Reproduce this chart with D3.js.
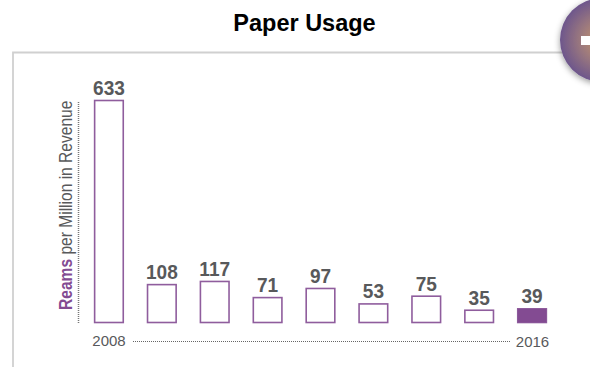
<!DOCTYPE html>
<html><head><meta charset="utf-8"><style>html,body{margin:0;padding:0;background:#fff;overflow:hidden}svg{display:block}</style>
<script src="https://cdn.jsdelivr.net/npm/d3@7/dist/d3.min.js"></script></head><body><div id="c"></div>
<script>
const years=[2008,2009,2010,2011,2012,2013,2014,2015,2016];
const values=[633,108,117,71,97,53,75,35,39];
const axisLabels=["2008","2016"];
const title="Paper Usage";
const W=590,H=367,purple="#834b92",grey="#58595b",font="'Liberation Sans',Arial,sans-serif";
const svg=d3.select("#c").append("svg").attr("width",W).attr("height",H);
const defs=svg.append("defs");
const g=defs.append("radialGradient").attr("id","badge");
g.append("stop").attr("offset","0").attr("stop-color","#c9986a");
g.append("stop").attr("offset","0.55").attr("stop-color","#98767f");
g.append("stop").attr("offset","1").attr("stop-color","#6d568c");
const f=defs.append("filter").attr("id","sh").attr("x","-30%").attr("y","-30%").attr("width","160%").attr("height","160%");
f.append("feDropShadow").attr("dx",0).attr("dy",2).attr("stdDeviation",3).attr("flood-color","#000").attr("flood-opacity",0.4);

svg.append("path").attr("d",`M13,${H}V52.5H${W}`).attr("fill","none").attr("stroke","#d0d0d0").attr("stroke-width",1.8);
svg.append("circle").attr("cx",602).attr("cy",40).attr("r",42).attr("fill","url(#badge)").attr("filter","url(#sh)");
svg.append("rect").attr("x",581).attr("y",36).attr("width",9).attr("height",9).attr("fill","#fff");

svg.append("text").attr("x",304.5).attr("y",31).attr("text-anchor","middle").attr("font-family",font).attr("font-weight",700).attr("font-size",23.5).attr("fill","#000").text(title);

const x=d3.scaleBand().domain(years).range([82.5,558.5]).paddingInner(0.44).paddingOuter(0.22);
const y=d3.scaleLinear().domain([0,633]).range([322,100]);

const bars=svg.append("g").selectAll("g").data(years.map((yr,i)=>({yr,v:values[i],i}))).join("g");
bars.append("rect")
 .attr("x",d=>x(d.yr)+0.5).attr("y",d=>y(d.v)+0.5)
 .attr("width",x.bandwidth()-1).attr("height",d=>y(0)-y(d.v))
 .attr("fill",d=>d.i===values.length-1?purple:"#fff")
 .attr("stroke",purple).attr("stroke-opacity",0.9).attr("stroke-width",1.6);
bars.append("text")
 .attr("transform",d=>`translate(${x(d.yr)+x.bandwidth()/2},${y(d.v)-5}) scale(0.93,1)`)
 .attr("text-anchor","middle").attr("font-family",font).attr("font-weight",700).attr("font-size",20.5).attr("fill",grey).text(d=>d.v);

svg.append("line").attr("x1",78.5).attr("x2",78.5).attr("y1",102).attr("y2",324).attr("stroke","#777").attr("stroke-width",1.5).attr("stroke-dasharray","1 1");
svg.append("line").attr("x1",133).attr("x2",510).attr("y1",341.5).attr("y2",341.5).attr("stroke","#666").attr("stroke-width",1).attr("stroke-dasharray","1 1");

svg.append("text").attr("x",109).attr("y",346).attr("text-anchor","middle").attr("font-family",font).attr("font-size",15).attr("fill",grey).text(axisLabels[0]);
svg.append("text").attr("x",532.5).attr("y",347).attr("text-anchor","middle").attr("font-family",font).attr("font-size",15).attr("fill",grey).text(axisLabels[1]);

const yl=svg.append("text").attr("transform","translate(71.5,310) rotate(-90) scale(0.82,1)").attr("font-family",font).attr("font-size",19).attr("fill",grey);
yl.append("tspan").attr("font-weight",700).attr("fill",purple).text("Reams");
yl.append("tspan").text(" per Million in Revenue");
</script></body></html>
